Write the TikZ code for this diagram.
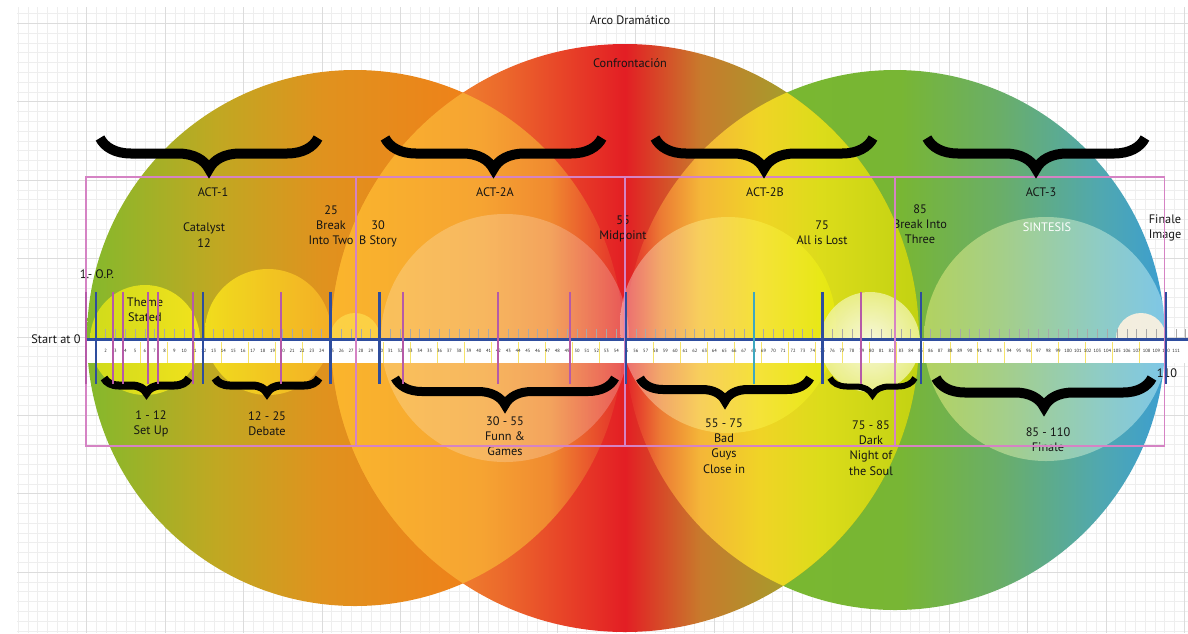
\documentclass[tikz,border=0pt]{standalone}
\usepackage{fontspec}
\setmainfont{PT Sans}
\usetikzlibrary{decorations.pathreplacing}

\definecolor{rulerblue}{HTML}{2E4D9E}
\definecolor{markpink}{HTML}{B65AA8}
\definecolor{markteal}{HTML}{3EA8C0}
\definecolor{boxpink}{HTML}{D583C4}
\definecolor{gridminor}{HTML}{EEEEEE}
\definecolor{gridmajor}{HTML}{DCDCDC}
\definecolor{tickgray}{HTML}{A8A8A8}
\definecolor{bandyellow}{HTML}{F5E36A}
% act one circle
\definecolor{oneA}{HTML}{84B92C}
\definecolor{oneB}{HTML}{C0A822}
\definecolor{oneC}{HTML}{E0921E}
\definecolor{oneD}{HTML}{EE8219}
\definecolor{oneE}{HTML}{F27A17}
% confrontation circle
\definecolor{twoA}{HTML}{F6A531}
\definecolor{twoB}{HTML}{F08A2E}
\definecolor{twoC}{HTML}{EC6A2C}
\definecolor{twoD}{HTML}{E31E24}
\definecolor{twoE}{HTML}{C87A2C}
\definecolor{twoF}{HTML}{A89A2C}
\definecolor{twoG}{HTML}{8FA82E}
% act three circle
\definecolor{thrA}{HTML}{7AB82C}
\definecolor{thrB}{HTML}{78B634}
\definecolor{thrC}{HTML}{6AAE68}
\definecolor{thrD}{HTML}{50A8B0}
\definecolor{thrE}{HTML}{3C9ED0}
% overlaps
\definecolor{lapA}{HTML}{FAB52C}
\definecolor{lapB}{HTML}{F6A432}
\definecolor{lapC}{HTML}{F08A30}
\definecolor{lapD}{HTML}{E4302A}
\definecolor{lapE}{HTML}{EC7A34}
\definecolor{lapF}{HTML}{F4B638}
\definecolor{lapG}{HTML}{F0D426}
\definecolor{lapH}{HTML}{DCDC1A}
\definecolor{lapI}{HTML}{C2D212}
% glows
\definecolor{sinA}{HTML}{F0F080}
\definecolor{sinB}{HTML}{C0F0FF}
\definecolor{themeA}{HTML}{D8E01A}
\definecolor{themeB}{HTML}{F8E81C}
\definecolor{debA}{HTML}{FAE61C}
\definecolor{debB}{HTML}{F7B428}
\definecolor{smallglow}{HTML}{FDD84A}
\definecolor{nightB}{HTML}{EEF29A}
\definecolor{cream}{HTML}{FFF3E0}

\pgfdeclarehorizontalshading{actone}{100bp}{color(0bp)=(oneA); color(25bp)=(oneA); color(37bp)=(oneB); color(47bp)=(oneC); color(60bp)=(oneD); color(75bp)=(oneE); color(100bp)=(oneE)}
\pgfdeclarehorizontalshading{confront}{100bp}{color(0bp)=(twoA); color(25bp)=(twoA); color(33.7bp)=(twoB); color(39.4bp)=(twoC); color(50bp)=(twoD); color(56.4bp)=(twoE); color(63.2bp)=(twoF); color(75bp)=(twoG); color(100bp)=(twoG)}
\pgfdeclarehorizontalshading{actthree}{100bp}{color(0bp)=(thrA); color(25bp)=(thrA); color(50.5bp)=(thrB); color(59.7bp)=(thrC); color(69bp)=(thrD); color(75bp)=(thrE); color(100bp)=(thrE)}
\pgfdeclarehorizontalshading{lapleft}{100bp}{color(0bp)=(lapA); color(25bp)=(lapA); color(37.7bp)=(lapB); color(43.6bp)=(lapC); color(49.5bp)=(lapD); color(50bp)=(twoD); color(100bp)=(twoD)}
\pgfdeclarehorizontalshading{lapright}{100bp}{color(0bp)=(twoD); color(50bp)=(twoD); color(50.5bp)=(lapD); color(53bp)=(lapE); color(56.4bp)=(lapF); color(61.5bp)=(lapG); color(66.6bp)=(lapH); color(75bp)=(lapI); color(100bp)=(lapI)}

\tikzset{gridline/.style={gridminor,line width=0.6pt},
  gridmajorline/.style={gridmajor,line width=0.8pt},
  lbl/.style={font=\fontsize{12.3}{15.3}\selectfont,align=center,inner sep=0pt,text=black!92},
  ticklbl/.style={font=\fontsize{4.6}{5}\selectfont,inner sep=0pt,text=black!85},
  actbox/.style={draw=boxpink,line width=1.5pt},
  bigbrace/.style={decorate,decoration={brace,mirror,amplitude=#1}}
}

\begin{document}
\begin{tikzpicture}[x=1pt,y=-1pt]
\useasboundingbox (0,0) rectangle (1188,633);
\clip (0,0) rectangle (1188,633);

% grid paper
\foreach \k in {1,...,119}
  \draw[gridline] ({8.3+9.8*\k},7) -- ({8.3+9.8*\k},633);
\foreach \k in {-1,...,62}
  \draw[gridline] (17,{23.3+9.8*\k}) -- (1188,{23.3+9.8*\k});
\foreach \k in {0,...,14}
  \draw[gridmajorline] ({86.7+78.4*\k},7) -- ({86.7+78.4*\k},633);
\foreach \k in {0,...,7}
  \draw[gridmajorline] (17,{23.3+78.4*\k}) -- (1188,{23.3+78.4*\k});

% the three big circles
\shade[shading=actone] (355,338) circle (268);
\shade[shading=actthree] (895,340) circle (270);
\shade[shading=confront] (625,338) circle (294);
\begin{scope}
  \clip (355,338) circle (268);
  \shade[shading=lapleft] (625,338) circle (294);
\end{scope}
\begin{scope}
  \clip (895,340) circle (270);
  \shade[shading=lapright] (625,338) circle (294);
\end{scope}

% glows
\fill[white,opacity=0.22] (505,338) circle (124);
\shade[left color=white,right color=yellow,opacity=0.35] (728,325) circle (108);
\shade[left color=sinA,right color=sinB,opacity=0.5] (1046,339) circle (122);
\shade[left color=themeA,right color=themeB,opacity=0.9] (145,340) circle (55);
\shade[left color=debA,right color=debB,opacity=0.85] (268,332) circle (63);
\fill[smallglow,opacity=0.8] (355,338) circle (25);
\shade[inner color=white,outer color=nightB,opacity=0.85] (870,342) circle (50);
\fill[cream,opacity=0.9] (1141,338) circle (25);

% ruler
\coordinate (zero) at (86,339);
\coordinate (rulerend) at (1188,339);
\fill[white] (86,339) rectangle (1188,363);
\foreach \k in {0,...,39}
  \draw[bandyellow,line width=0.8pt] ({113+27*\k},342) -- ({113+27*\k},363);
\foreach \n in {1,...,113}
  \draw[tickgray,line width=0.8pt] ({86+9.82*\n},329) -- ({86+9.82*\n},339);
\foreach \n in {1,...,111}
  \node[ticklbl] (t\n) at ({86+9.82*\n},351) {\n};
\draw[rulerblue,line width=3pt] (zero) -- (rulerend);

% texts
\node[lbl] (title) at (630,20) {Arco Dramático};
\node[lbl] (conf) at (630,63) {Confrontación};
\foreach \x/\t [count=\n] in {213/ACT-1,495/ACT-2A,765/ACT-2B,1041/ACT-3}
  \node[lbl] (act\n) at (\x,192) {\t};
\node[lbl] (catalyst) at (204,235) {Catalyst\\12};
\node[lbl] (breaktwo) at (331,225) {25\\Break\\Into Two};
\node[lbl] (bstory) at (378,234) {30\\B Story};
\node[lbl] (midpoint) at (623,229) {55\\Midpoint};
\node[lbl] (lost) at (822,233) {75\\All is Lost};
\node[lbl] (breakthree) at (920,224) {85\\Break Into\\Three};
\node[lbl,text=white] (sintesis) at (1047,227) {SINTESIS};
\node[lbl] (finimage) at (1165,228) {Finale\\Image};
\node[lbl] (op) at (97,274) {1.- O.P.};
\node[lbl] (theme) at (145,310) {Theme\\Stated};
\node[lbl] (start) at (56,339) {Start at 0};
\node[lbl] (end) at (1167,373) {110};
\node[lbl] (setup) at (151,424) {1 - 12\\Set Up};
\node[lbl] (debate) at (267,424) {12 - 25\\Debate};
\node[lbl] (games) at (505,436) {30 - 55\\Funn \&\\Games};
\node[lbl] (badguys) at (724,446) {55 - 75\\Bad\\Guys\\Close in};
\node[lbl] (darknight) at (871,448) {75 - 85\\Dark\\Night of\\the Soul};
\node[lbl] (finale) at (1048,440) {85 - 110\\Finale};

% act boxes
\foreach \bx in {86,356,625,895}
  \draw[actbox] (\bx,177) rectangle ++(269.5,269);

% braces
\foreach \a/\b in {100/318,385/602,655/873,927/1145}
  \draw[bigbrace=31pt,line width=10pt] (\a,138) -- (\b,138);
\foreach \a/\b/\h/\w in {104/189/15/8,215/319/15/8,395/615/27/9,640/810/23/9,830/915/17/6,936/1152/29/10}
  \draw[bigbrace=\h pt,line width=\w pt] (\a,378) -- (\b,378);

% beat markers
\foreach \m/\c/\w in {0/markpink/2,1/rulerblue/2.4,2.8/markpink/2,3.8/markpink/2,6.3/markpink/2,7.3/markpink/2,10.9/markpink/2,11.9/rulerblue/2.4,19.9/markpink/2,24.9/rulerblue/2.4,29.9/rulerblue/2.4,32.3/markpink/2,42/markpink/2,49.3/markpink/2,55/rulerblue/2.4,68/markteal/2,75/rulerblue/2.4,78.9/markpink/2,85/rulerblue/2.4,110/rulerblue/2.4}
  \draw[\c,line width=\w pt] ({86+9.82*\m},292) -- ({86+9.82*\m},384);
\end{tikzpicture}
\end{document}
